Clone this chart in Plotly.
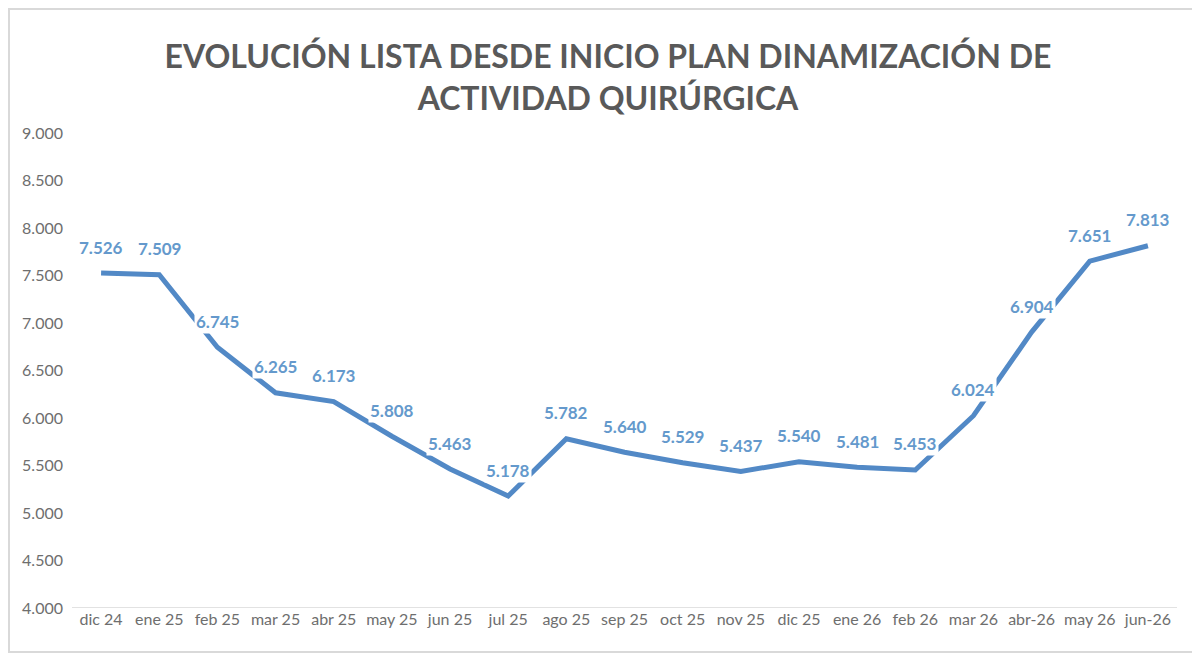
import plotly.graph_objects as go

# meses y tamaño de la lista
meses = ["dic 24", "ene 25", "feb 25", "mar 25", "abr 25", "may 25", "jun 25",
         "jul 25", "ago 25", "sep 25", "oct 25", "nov 25", "dic 25", "ene 26",
         "feb 26", "mar 26", "abr-26", "may 26", "jun-26"]
pacientes = [7526, 7509, 6745, 6265, 6173, 5808, 5463, 5178, 5782, 5640,
             5529, 5437, 5540, 5481, 5453, 6024, 6904, 7651, 7813]

y_ticks = list(range(4000, 9001, 500))

LINEA = "#5289C6"
ETIQ = "#6499CC"
GRIS = "#595959"

fig = go.Figure()

fig.add_trace(go.Scatter(
    x=meses,
    y=pacientes,
    mode="lines",
    line=dict(color=LINEA, width=5),
    hoverinfo="skip",
    showlegend=False
))

# etiquetas de datos con fondo blanco (tapan la linea como en excel)
for m, v in zip(meses, pacientes):
    fig.add_annotation(
        x=m, y=v,
        text=f"{v:,}".replace(",", "."),
        showarrow=False,
        yshift=26,
        bgcolor="white",
        borderpad=1,
        font=dict(family="Lato", size=17, color=ETIQ, weight="bold")
    )

fig.update_layout(
    width=1200,
    height=657,
    title=dict(
        text="EVOLUCIÓN LISTA DESDE INICIO PLAN DINAMIZACIÓN DE<br>ACTIVIDAD QUIRÚRGICA",
        x=0.5,
        xanchor="center",
        y=0.908,
        yanchor="middle",
        font=dict(family="Lato", size=32, color=GRIS, weight="bold")
    ),
    separators=",.",
    margin=dict(l=64, r=31, t=125, b=57),
    paper_bgcolor="white",
    plot_bgcolor="white",
    font=dict(family="Lato", size=16, color="#6E6E6E"),
    xaxis=dict(
        type="category",
        range=[-0.5, 18.5],
        showgrid=False,
        showline=False,
        zeroline=False,
        ticks="",
        tickfont=dict(size=16, color="#6E6E6E")
    ),
    yaxis=dict(
        range=[4000, 9000],
        tickvals=y_ticks,
        tickformat=",",
        showgrid=False,
        zeroline=False,
        showline=False,
        ticks="",
        ticklabelstandoff=8,
        tickfont=dict(size=16, color="#6E6E6E")
    ),
    shapes=[
        # linea del eje horizontal en 4.000
        dict(type="line", xref="paper", yref="y", x0=0, x1=1, y0=4000, y1=4000,
             line=dict(color="#D9D9D9", width=1.5)),
        # borde del area del grafico
        dict(type="rect", xref="paper", yref="paper", x0=-0.057, x1=1.0172,
             y0=-0.0926, y1=1.261, line=dict(color="#D9D9D9", width=2),
             layer="below")
    ]
)

fig.write_html("out.html")
